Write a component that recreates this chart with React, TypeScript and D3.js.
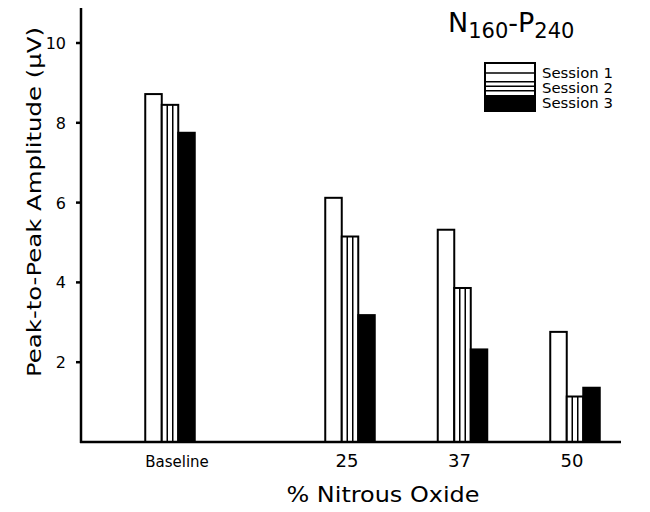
import React from "react";
import * as d3 from "d3";

const categories = ["Baseline", "25", "37", "50"];
const slots = [0, 1.6, 2.6, 3.6];
const sessions = ["Session 1", "Session 2", "Session 3"];
const session1 = [8.72, 6.12, 5.32, 2.76];
const session2 = [8.45, 5.15, 3.86, 1.14];
const session3 = [7.75, 3.18, 2.32, 1.36];
const yTicks = [2, 4, 6, 8, 10];

const W = 650;
const H = 512;
const FONT = "'DejaVu Sans', Verdana, sans-serif";

export default function App() {
  const x = d3.scaleLinear().domain([0, 3.6]).range([170, 575]);
  const y = d3.scaleLinear().domain([0, 10]).range([442, 43]);
  const barW = 16.5;
  const series = [session1, session2, session3];
  const axisX = 81;
  const axisY = y(0);

  return (
    <svg
      width={W}
      height={H}
      style={{ position: "absolute", left: 0, top: 0, background: "#fff" }}
      fontFamily={FONT}
    >
      <rect x={0} y={0} width={W} height={H} fill="#fff" />
      {/* bars */}
      {categories.map((c, i) => {
        const cx = x(slots[i]);
        const x0 = cx - (barW * 3) / 2;
        return (
          <g key={c}>
            {series.map((s, k) => {
              const bx = x0 + k * barW;
              const top = y(s[i]);
              const h = axisY - top;
              return (
                <g key={k}>
                  <rect
                    x={bx}
                    y={top}
                    width={barW}
                    height={h}
                    fill={k === 2 ? "#000" : "#fff"}
                    stroke="#000"
                    strokeWidth={2}
                  />
                  {k === 1 && (
                    <>
                      <line x1={bx + barW / 3} x2={bx + barW / 3} y1={top} y2={axisY} stroke="#000" strokeWidth={1.5} />
                      <line x1={bx + (2 * barW) / 3} x2={bx + (2 * barW) / 3} y1={top} y2={axisY} stroke="#000" strokeWidth={1.5} />
                    </>
                  )}
                </g>
              );
            })}
            <text
              x={cx + (i === 0 ? 7 : -3)}
              y={467}
              textAnchor="middle"
              fontSize={i === 0 ? 15 : 18}
              fill="#000"
            >
              {c}
            </text>
          </g>
        );
      })}
      {/* axes */}
      <line x1={axisX} x2={axisX} y1={8} y2={axisY + 1} stroke="#000" strokeWidth={2.5} />
      <line x1={axisX - 1} x2={621} y1={axisY} y2={axisY} stroke="#000" strokeWidth={2.5} />
      {yTicks.map((t) => (
        <g key={t}>
          <line x1={axisX - 5} x2={axisX} y1={y(t)} y2={y(t)} stroke="#000" strokeWidth={2.5} />
          <text x={66} y={y(t) + 6} textAnchor="end" fontSize={16} fill="#000">
            {t}
          </text>
        </g>
      ))}
      {/* axis titles */}
      <text
        transform={`translate(41, 202) rotate(-90)`}
        textAnchor="middle"
        fontSize={20}
        fill="#000"
        textLength={350}
        lengthAdjust="spacingAndGlyphs"
      >
        Peak-to-Peak Amplitude (μV)
      </text>
      <text x={383} y={502} textAnchor="middle" fontSize={21} fill="#000" textLength={193} lengthAdjust="spacingAndGlyphs">
        % Nitrous Oxide
      </text>
      {/* title */}
      <text x={448} y={32} fontSize={27} fill="#000">
        N
        <tspan fontSize={21} dy={6}>160</tspan>
        <tspan fontSize={27} dy={-6}>-P</tspan>
        <tspan fontSize={21} dy={6}>240</tspan>
      </text>
      {/* legend */}
      <g>
        <rect x={485} y={63} width={50} height={48} fill="#fff" stroke="#000" strokeWidth={2} />
        <line x1={485} x2={535} y1={73} y2={73} stroke="#000" strokeWidth={1.5} />
        <line x1={485} x2={535} y1={81.7} y2={81.7} stroke="#000" strokeWidth={1.5} />
        <line x1={485} x2={535} y1={86.3} y2={86.3} stroke="#000" strokeWidth={1.5} />
        <line x1={485} x2={535} y1={90.7} y2={90.7} stroke="#000" strokeWidth={1.5} />
        <rect x={485} y={95} width={50} height={16} fill="#000" />
        {sessions.map((s, k) => (
          <text key={s} x={542} y={78 + k * 15} fontSize={14.5} fill="#000" textLength={71} lengthAdjust="spacingAndGlyphs">
            {s}
          </text>
        ))}
      </g>
    </svg>
  );
}
